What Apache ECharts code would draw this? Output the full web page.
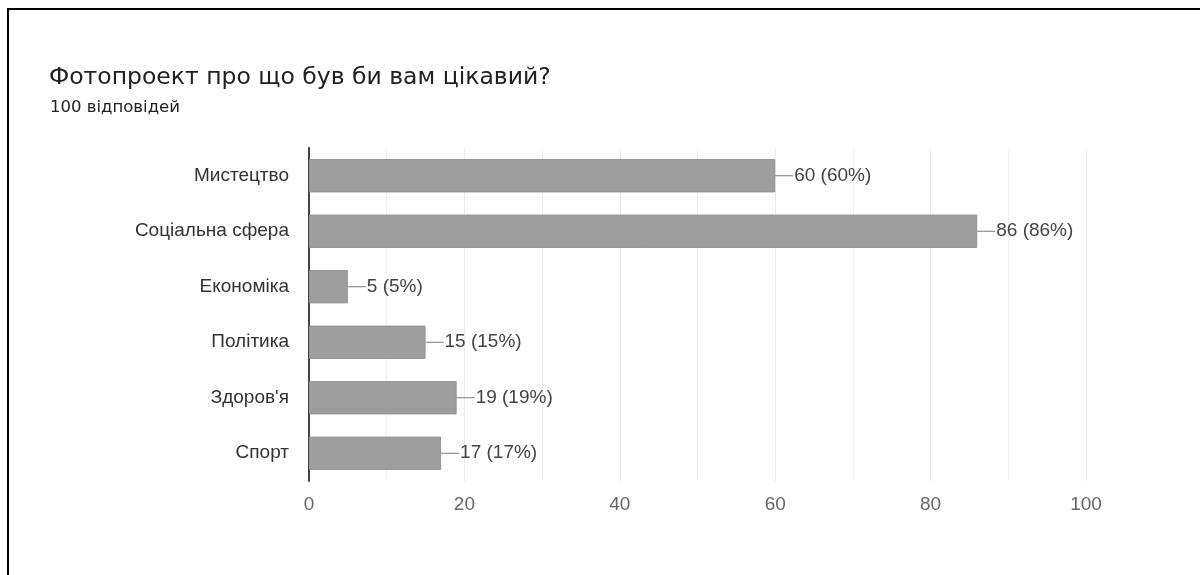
<!DOCTYPE html>
<html>
<head>
<meta charset="utf-8">
<script src="https://cdn.jsdelivr.net/npm/echarts@6/dist/echarts.min.js"></script>
<style>
html,body{margin:0;padding:0;background:#fff;}
#frame{position:absolute;left:7px;top:8px;width:1193px;height:567px;border-top:2px solid #000;border-left:2px solid #000;box-sizing:border-box;}
#chart{position:absolute;left:0;top:0;width:1200px;height:575px;}
</style>
</head>
<body>
<div id="frame"></div>
<div id="chart"></div>
<script>
const titleText = 'Фотопроект про що був би вам цікавий?';
const subtitleText = '100 відповідей';
const categories = ['Мистецтво', 'Соціальна сфера', 'Економіка', 'Політика', "Здоров'я", 'Спорт'];
const counts = [60, 86, 5, 15, 19, 17];
const percents = [60, 86, 5, 15, 19, 17];
const xTicks = [0, 20, 40, 60, 80, 100];

const chart = echarts.init(document.getElementById('chart'), null, {renderer: 'canvas'});
chart.setOption({
  backgroundColor: 'transparent',
  animation: false,
  title: [
    {text: titleText, left: 44, top: 61, textStyle: {fontFamily: 'DejaVu Sans', fontSize: 23.5, fontWeight: 'normal', color: '#202124'}},
    {text: subtitleText, left: 45, top: 94, textStyle: {fontFamily: 'DejaVu Sans', fontSize: 16.5, fontWeight: 'normal', color: '#222'}}
  ],
  grid: {left: 309, right: 114, top: 148, bottom: 94, containLabel: false},
  xAxis: {
    type: 'value', min: 0, max: 100, interval: 20,
    axisLine: {show: false}, axisTick: {show: false},
    axisLabel: {fontFamily: 'Liberation Sans', fontSize: 19, color: '#666', margin: 14,
      formatter: function (v) { return xTicks.indexOf(v) >= 0 ? String(v) : ''; }},
    splitLine: {show: true, lineStyle: {color: '#ebebeb', width: 1}},
    minorTick: {show: false, splitNumber: 2},
    minorSplitLine: {show: true, lineStyle: {color: '#f0f0f0', width: 1}}
  },
  yAxis: {
    type: 'category', data: categories, inverse: true,
    axisLine: {show: true, lineStyle: {color: '#444', width: 2}},
    axisTick: {show: false},
    axisLabel: {fontFamily: 'Liberation Sans', fontSize: 19, color: '#333', margin: 20}
  },
  series: [{
    type: 'bar',
    data: counts,
    barWidth: '60%',
    itemStyle: {color: '#9e9e9e', borderColor: '#939393', borderWidth: 1},
    label: {
      show: true, position: 'right', distance: 0,
      formatter: function (p) { return '{l|}{t|' + counts[p.dataIndex] + ' (' + percents[p.dataIndex] + '%)}'; },
      rich: {
        l: {width: 18, height: 1, backgroundColor: '#7a7a7a', verticalAlign: 'middle'},
        t: {fontFamily: 'Liberation Sans', fontSize: 19, color: '#444', padding: [0, 0, 0, 1]}
      }
    }
  }]
});
</script>
</body>
</html>
